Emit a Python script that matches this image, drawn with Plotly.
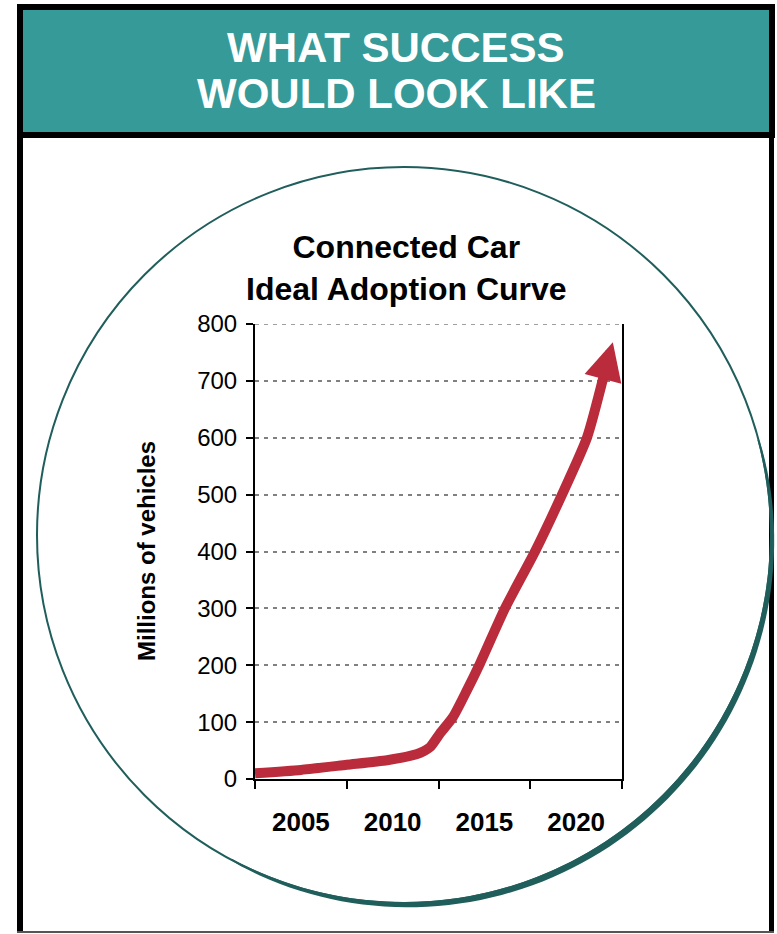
import math
import plotly.graph_objects as go

# ---------------- data ----------------
years = [2002.5, 2005.0, 2007.5, 2009.7, 2011.0, 2011.5, 2012.04, 2012.58, 2013.29,
         2014.05, 2014.76, 2016.12, 2017.76, 2019.23, 2020.59, 2021.5]
vehicles = [10, 16, 25, 33, 41, 46, 56, 80, 109, 156, 203, 300, 400, 500, 600, 708]
arrow_tip_year = 2022.0
arrow_tip_value = 768

x_labels = ["2005", "2010", "2015", "2020"]
x_label_pos = [2005, 2010, 2015, 2020]
y_ticks = [0, 100, 200, 300, 400, 500, 600, 700, 800]

header_lines = ["WHAT SUCCESS", "WOULD LOOK LIKE"]
chart_title = "Connected Car<br>Ideal Adoption Curve"
y_title = "Millions of vehicles"

# ---------------- layout geometry (pixels) ----------------
W, H = 777, 934
L, R, T, B = 255, 622, 324, 779  # plot area in pixels

def px(x):
    return (x - L) / (R - L)

def py(y):
    return (B - y) / (B - T)

RED = "#BA2B3B"
TEAL = "#359A98"
CIRC = "#1F5E5B"
FONT = "Liberation Sans, Arial, sans-serif"

fig = go.Figure()
fig.add_trace(go.Scatter(
    x=years, y=vehicles, mode="lines",
    line=dict(color=RED, width=10, shape="spline", smoothing=0.6),
    hoverinfo="skip", showlegend=False,
))

shapes = []
# header box
shapes.append(dict(type="rect", xref="paper", yref="paper",
                   x0=px(20), x1=px(772), y0=py(7), y1=py(135),
                   fillcolor=TEAL, line=dict(color="black", width=6), layer="below"))
# lower panel borders
shapes.append(dict(type="line", xref="paper", yref="paper",
                   x0=px(20), x1=px(20), y0=py(135), y1=py(933),
                   line=dict(color="black", width=6), layer="below"))
shapes.append(dict(type="line", xref="paper", yref="paper",
                   x0=px(771.5), x1=px(771.5), y0=py(135), y1=py(933),
                   line=dict(color="black", width=5), layer="below"))
shapes.append(dict(type="line", xref="paper", yref="paper",
                   x0=px(17), x1=px(774), y0=py(932), y1=py(932),
                   line=dict(color="#555555", width=2), layer="below"))

# top dashed gridline at the axis maximum
shapes.append(dict(type="line", xref="paper", yref="y",
                   x0=0, x1=1, y0=y_ticks[-1], y1=y_ticks[-1],
                   line=dict(color="#808080", width=1.5, dash="4px,5px"), layer="below"))

# circle
cx, cy, rx, ry = 404, 535, 367, 368
shapes.append(dict(type="circle", xref="paper", yref="paper",
                   x0=px(cx - rx), x1=px(cx + rx), y0=py(cy - ry), y1=py(cy + ry),
                   line=dict(color=CIRC, width=2), layer="below"))
# thicker shadow crescent on lower right
th0, th1 = math.radians(-15), math.radians(118)
n = 80
outer, inner = [], []
for i in range(n + 1):
    th = th0 + (th1 - th0) * i / n
    t = 5.0 * math.sin(math.pi * i / n) ** 0.6
    outer.append((cx + (rx + 0.5 + t) * math.cos(th), cy + (ry + 0.5 + t) * math.sin(th)))
    inner.append((cx + (rx - 1) * math.cos(th), cy + (ry - 1) * math.sin(th)))
pts = outer + inner[::-1]
path = "M" + " L".join(f"{px(a):.5f},{py(b):.5f}" for a, b in pts) + " Z"
shapes.append(dict(type="path", xref="paper", yref="paper", path=path,
                   fillcolor=CIRC, line=dict(width=0), layer="below"))

annotations = []
annotations.append(dict(xref="paper", yref="paper", x=px(396), y=py(48),
                        text=f"<b>{header_lines[0]}</b>", showarrow=False,
                        font=dict(family=FONT, size=42, color="white"),
                        xanchor="center", yanchor="middle"))
annotations.append(dict(xref="paper", yref="paper", x=px(396), y=py(93),
                        text=f"<b>{header_lines[1]}</b>", showarrow=False,
                        font=dict(family=FONT, size=42, color="white"),
                        xanchor="center", yanchor="middle"))
annotations.append(dict(xref="paper", yref="paper", x=px(406), y=py(268),
                        text=f"<b>{chart_title}</b>", showarrow=False,
                        font=dict(family=FONT, size=32, color="black"),
                        xanchor="center", yanchor="middle"))
annotations.append(dict(xref="paper", yref="paper", x=px(146), y=py(551),
                        text=f"<b>{y_title}</b>", showarrow=False, textangle=-90,
                        font=dict(family=FONT, size=24, color="black"),
                        xanchor="center", yanchor="middle"))
# arrow head
annotations.append(dict(x=arrow_tip_year, y=arrow_tip_value, xref="x", yref="y",
                        ax=years[-1], ay=vehicles[-1], axref="x", ayref="y",
                        text="", showarrow=True, arrowhead=2, arrowsize=0.76,
                        arrowwidth=10, arrowcolor=RED, standoff=0))

fig.update_layout(
    width=W, height=H,
    margin=dict(l=L, r=W - R, t=T, b=H - B, pad=0),
    paper_bgcolor="white", plot_bgcolor="white",
    shapes=shapes, annotations=annotations,
    showlegend=False,
    font=dict(family=FONT, color="black"),
    xaxis=dict(
        range=[2002.5, 2022.5], tickvals=x_label_pos, ticktext=[f"<b>{s}</b>" for s in x_labels],
        ticks="", showgrid=False, zeroline=False,
        showline=True, linecolor="black", linewidth=2,
        tickfont=dict(family=FONT, size=26, color="black"),
        ticklabelstandoff=19,
        minor=dict(ticks="outside", tick0=2002.5, dtick=5, ticklen=8,
                   tickcolor="black", tickwidth=2, showgrid=False),
        fixedrange=True,
    ),
    yaxis=dict(
        range=[0, 800], tickvals=y_ticks, ticks="outside", ticklen=7,
        tickcolor="black", tickwidth=2,
        showgrid=True, gridcolor="#808080", gridwidth=1.5, griddash="4px,5px",
        zeroline=False, showline=True, linecolor="black", linewidth=2, mirror=True,
        tickfont=dict(family=FONT, size=24, color="black"),
        ticklabelstandoff=4,
        fixedrange=True,
    ),
)

fig.write_html("out.html")
